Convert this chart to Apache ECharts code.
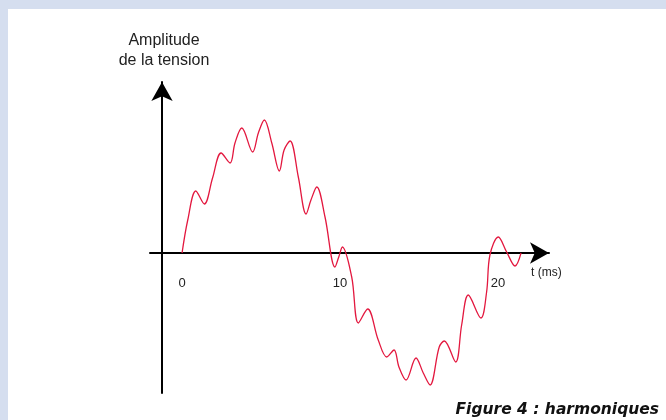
<!DOCTYPE html>
<html>
<head>
<meta charset="utf-8">
<script src="https://cdn.jsdelivr.net/npm/echarts@6/dist/echarts.min.js"></script>
<style>
  html, body { margin: 0; padding: 0; }
  #wrap { position: relative; width: 666px; height: 420px; background: #d5deef; overflow: hidden; }
  #panel { position: absolute; left: 8px; top: 9px; width: 658px; height: 411px; background: #ffffff; }
  #chart { position: absolute; left: 0; top: 0; width: 666px; height: 420px; }
</style>
</head>
<body>
<div id="wrap"><div id="panel"></div><div id="chart"></div></div>
<script>
// time (ms) of points
const timeMs = [0, 0.36, 0.87, 1.41, 1.93, 2.47, 3.04, 3.35, 3.78, 4.47, 4.83, 5.21,
  5.68, 6.16, 6.46, 6.84, 7.36, 7.85, 8.16, 8.53, 9.05, 9.68, 9.92, 10.15,
  10.74, 11.16, 11.75, 12.42, 12.96, 13.42, 13.73, 14.18, 14.81, 15.27, 15.70,
  16.28, 16.60, 17.32, 17.70, 18.12, 18.92, 19.28, 19.49, 20.02, 20.55, 21.08, 21.46];
// voltage amplitude (arbitrary units) at those times
const amplitude = [0, 0.33, 0.62, 0.49, 0.75, 1.00, 0.90, 1.10, 1.25, 1.01, 1.20, 1.33,
  1.10, 0.82, 1.03, 1.12, 0.76, 0.39, 0.53, 0.66, 0.36, -0.14, -0.04, 0.06,
  -0.24, -0.70, -0.56, -0.87, -1.04, -0.97, -1.14, -1.27, -1.05, -1.20, -1.32,
  -0.94, -0.88, -1.09, -0.72, -0.42, -0.65, -0.39, -0.02, 0.16, 0.01, -0.13, 0.00];
const xTickValues = [0, 10, 20];
const yAxisName = 'Amplitude\nde la tension';
const xAxisName = 't (ms)';
const captionText = 'Figure 4 : harmoniques';

const points = timeMs.map((t, i) => [t, amplitude[i]]);

const chart = echarts.init(document.getElementById('chart'), null, { renderer: 'canvas' });
chart.setOption({
  animation: false,
  backgroundColor: 'transparent',
  title: {
    text: captionText,
    right: 7,
    top: 402,
    padding: 0,
    textStyle: {
      fontFamily: 'DejaVu Sans',
      fontSize: 15.5,
      fontWeight: 'bold',
      fontStyle: 'italic',
      color: '#111',
      lineHeight: 16
    }
  },
  grid: { left: 150, right: 117, top: 82, bottom: 27, outerBoundsMode: 'none' },
  xAxis: {
    type: 'value',
    min: -2.03,
    max: 23.23,
    offset: -140,
    name: xAxisName,
    nameLocation: 'end',
    nameGap: -18,
    nameMoveOverlap: false,
    nameTextStyle: {
      fontFamily: 'Liberation Sans',
      fontSize: 12,
      color: '#222',
      align: 'left',
      verticalAlign: 'top',
      lineHeight: 14,
      padding: [13, 0, 0, 0]
    },
    axisLine: {
      onZero: false,
      lineStyle: { color: '#000', width: 2 },
      symbol: ['none', 'arrow'],
      symbolSize: [16, 19]
    },
    axisTick: { show: false },
    splitLine: { show: false },
    axisLabel: {
      customValues: xTickValues,
      margin: 24,
      color: '#222',
      fontFamily: 'Liberation Sans',
      fontSize: 13
    }
  },
  yAxis: {
    type: 'value',
    min: -1.40,
    max: 1.71,
    offset: -12,
    name: yAxisName,
    nameLocation: 'end',
    nameGap: 11,
    nameMoveOverlap: false,
    nameTextStyle: {
      fontFamily: 'Liberation Sans',
      fontSize: 16,
      lineHeight: 20,
      color: '#222',
      align: 'center',
      verticalAlign: 'bottom',
      padding: [0, 0, 0, 4]
    },
    axisLine: {
      onZero: false,
      lineStyle: { color: '#000', width: 2 },
      symbol: ['none', 'arrow'],
      symbolSize: [16, 19]
    },
    axisTick: { show: false },
    axisLabel: { show: false },
    splitLine: { show: false }
  },
  series: [{
    type: 'line',
    data: points,
    smooth: 0.35,
    showSymbol: false,
    symbol: 'none',
    lineStyle: { color: '#e3183f', width: 1.3 },
    z: 3
  }]
});
</script>
</body>
</html>
